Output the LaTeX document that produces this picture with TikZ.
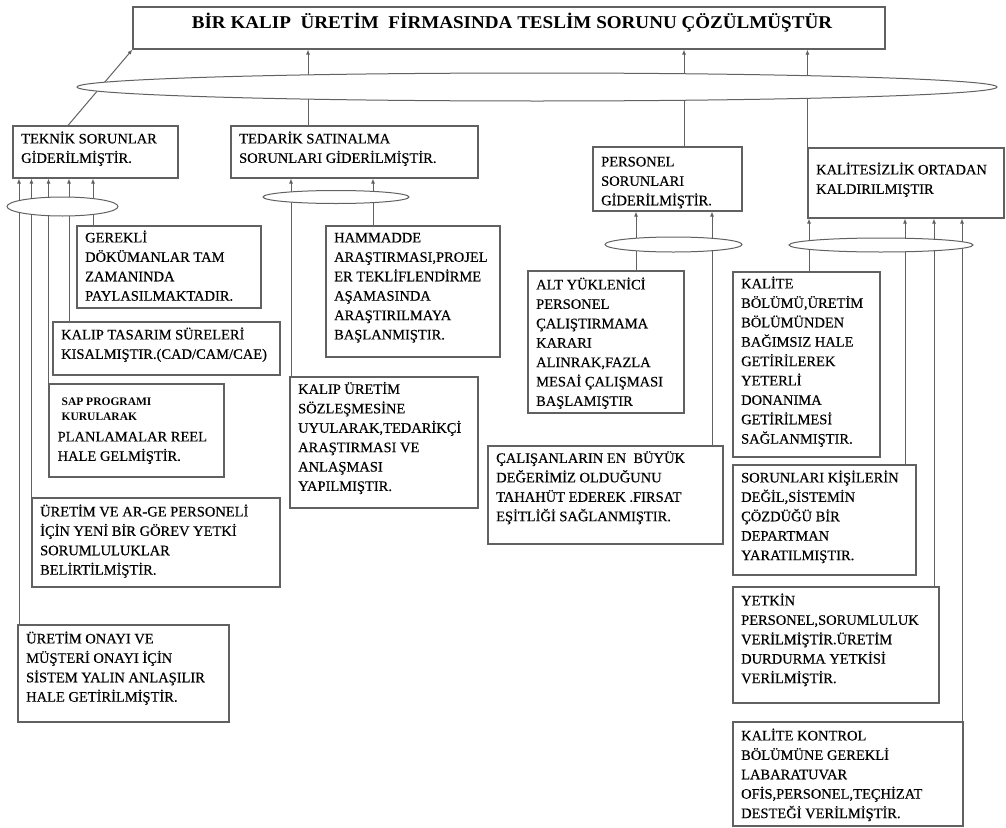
\documentclass[tikz,border=0pt]{standalone}
\usepackage{fontspec}
\setmainfont{Liberation Serif}
\newfontfamily\boxfont{Liberation Serif}[FakeBold=0.35]
\usetikzlibrary{arrows.meta,shapes.geometric,fit}

% framed goal box: name, x1, y1, x2, y2, baseline offset of first line, text
\newcommand\goalbox[7]{%
  \node[box, fit={(#2,#3) (#4,#5)}] (#1) {};
  \node[txt] (#1-t) at ([shift={(8.5,#6)}]#1.north west)
    {\parbox[t]{300pt}{\raggedright #7}};
}

\begin{document}
\begin{tikzpicture}[x=1pt,y=-1pt,
  box/.style={draw=black!62, line width=1.1pt, rectangle, inner sep=0pt},
  txt/.style={anchor=base west, inner sep=0pt, text=black,
    font=\boxfont\fontsize{14.5}{19.4}\selectfont},
  small/.style={anchor=base west, inner sep=0pt, text=black,
    font=\fontsize{11.5}{14.6}\selectfont\bfseries},
  title/.style={anchor=base, inner sep=0pt, text=black,
    font=\fontsize{18}{20}\selectfont\bfseries},
  arr/.style={draw=black!62, line width=1pt, -{Latex[length=5pt,width=4pt]}},
  andell/.style={ellipse, draw=black!62, line width=1pt, fill=white, inner sep=0pt}]
\useasboundingbox (0,0) rectangle (1006,827);

% main goal
\node[box, fit={(133,7) (885,49)}] (goal) {};
\node[title] (goal-t) at (512,28)
  {\scalebox{1.06}[1]{BİR KALIP\ \ ÜRETİM\ \ FİRMASINDA TESLİM SORUNU ÇÖZÜLMÜŞTÜR}};

% sub-goals
\goalbox{teknik}{13}{126}{178}{178}{18}{TEKNİK SORUNLAR\\GİDERİLMİŞTİR.}
\goalbox{tedarik}{231}{126}{478}{178}{18}{TEDARİK SATINALMA\\SORUNLARI GİDERİLMİŞTİR.}
\goalbox{personel}{593}{147}{742}{211}{20}{PERSONEL\\SORUNLARI\\GİDERİLMİŞTİR.}
\goalbox{kalitesiz}{808}{148}{1004}{218}{27}{KALİTESİZLİK ORTADAN\\KALDIRILMIŞTIR}

% technical branch
\goalbox{gerekli}{77}{226}{261}{308}{17}{GEREKLİ\\DÖKÜMANLAR TAM\\ZAMANINDA\\PAYLASILMAKTADIR.}
\goalbox{kaliptas}{53}{322}{280}{375}{18}{KALIP TASARIM SÜRELERİ\\KISALMIŞTIR.(CAD/CAM/CAE)}
\node[box, fit={(49,384) (224,477)}] (sap) {};
\node[small] (sap-t1) at ([shift={(13,22)}]sap.north west)
  {\parbox[t]{200pt}{\raggedright SAP PROGRAMI\\KURULARAK}};
\node[txt] (sap-t2) at ([shift={(9,58)}]sap.north west)
  {\parbox[t]{200pt}{\raggedright PLANLAMALAR REEL\\HALE GELMİŞTİR.}};
\goalbox{arge}{32}{498}{280}{587}{19}{ÜRETİM VE AR-GE PERSONELİ\\İÇİN YENİ BİR GÖREV YETKİ\\SORUMLULUKLAR\\BELİRTİLMİŞTİR.}
\goalbox{onay}{18}{625}{229}{722}{19}{ÜRETİM ONAYI VE\\MÜŞTERİ ONAYI İÇİN\\SİSTEM YALIN ANLAŞILIR\\HALE GETİRİLMİŞTİR.}

% supply branch
\goalbox{hammadde}{326}{226}{500}{357}{17}{HAMMADDE\\ARAŞTIRMASI,PROJEL\\ER TEKLİFLENDİRME\\AŞAMASINDA\\ARAŞTIRILMAYA\\BAŞLANMIŞTIR.}
\goalbox{kalipuret}{290}{377}{478}{508}{17.5}{KALIP ÜRETİM\\SÖZLEŞMESİNE\\UYULARAK,TEDARİKÇİ\\ARAŞTIRMASI VE\\ANLAŞMASI\\YAPILMIŞTIR.}

% personnel branch
\goalbox{alt}{528}{271}{684}{413}{19}{ALT YÜKLENİCİ\\PERSONEL\\ÇALIŞTIRMAMA\\KARARI\\ALINRAK,FAZLA\\MESAİ ÇALIŞMASI\\BAŞLAMIŞTIR}
\goalbox{calisan}{488}{446}{723}{544}{17.5}{ÇALIŞANLARIN EN\ \ BÜYÜK\\DEĞERİMİZ OLDUĞUNU\\TAHAHÜT EDEREK .FIRSAT\\EŞİTLİĞİ SAĞLANMIŞTIR.}

% quality branch
\goalbox{kalite}{733}{272}{880}{457}{17}{KALİTE\\BÖLÜMÜ,ÜRETİM\\BÖLÜMÜNDEN\\BAĞIMSIZ HALE\\GETİRİLEREK\\YETERLİ\\DONANIMA\\GETİRİLMESİ\\SAĞLANMIŞTIR.}
\goalbox{sorun}{733}{465}{916}{575}{18}{SORUNLARI KİŞİLERİN\\DEĞİL,SİSTEMİN\\ÇÖZDÜĞÜ BİR\\DEPARTMAN\\YARATILMIŞTIR.}
\goalbox{yetkin}{733}{587}{939}{703}{19}{YETKİN\\PERSONEL,SORUMLULUK\\VERİLMİŞTİR.ÜRETİM\\DURDURMA YETKİSİ\\VERİLMİŞTİR.}
\goalbox{kontrol}{733}{722}{963}{826}{19}{KALİTE KONTROL\\BÖLÜMÜNE GEREKLİ\\LABARATUVAR\\OFİS,PERSONEL,TEÇHİZAT\\DESTEĞİ VERİLMİŞTİR.}

% connectors to the main goal
\draw[arr] (teknik.north -| 68,0) -- (goal.south west);
\draw[arr] (tedarik.north -| 308,0) -- (goal.south -| 308,0);
\draw[arr] (personel.north -| 684,0) -- (goal.south -| 684,0);
\draw[arr] (kalitesiz.north west) -- (goal.south -| kalitesiz.north west);

% connectors to the technical sub-goal
\draw[arr] (gerekli.north -| 93,0) -- (teknik.south -| 93,0);
\draw[arr] (kaliptas.north -| 69,0) -- (teknik.south -| 69,0);
\draw[arr] (sap.north -| 48.5,0) -- (teknik.south -| 48.5,0);
\draw[arr] (arge.north west) -- (teknik.south -| arge.north west);
\draw[arr] (onay.north -| 19,0) -- (teknik.south -| 19,0);

% connectors to the supply sub-goal
\draw[arr] (kalipuret.north -| 291,0) -- (tedarik.south -| 291,0);
\draw[arr] (hammadde.north -| 373,0) -- (tedarik.south -| 373,0);

% connectors to the personnel sub-goal
\draw[arr] (alt.north -| 636,0) -- (personel.south -| 636,0);
\draw[arr] (calisan.north -| 712,0) -- (personel.south -| 712,0);

% connectors to the quality sub-goal
\draw[arr] (kalite.north -| 809,0) -- (kalitesiz.south -| 809,0);
\draw[arr] (sorun.north -| 905,0) -- (kalitesiz.south -| 905,0);
\draw[arr] (yetkin.north -| 934,0) -- (kalitesiz.south -| 934,0);
\draw[arr] (kontrol.north -| 962,0) -- (kalitesiz.south -| 962,0);

% AND junctions
\node[andell, minimum width=920, minimum height=28] (and0) at (537,87) {};
\node[andell, minimum width=111, minimum height=19] (and1) at (62.5,206.5) {};
\node[andell, minimum width=146, minimum height=13] (and2) at (336,197) {};
\node[andell, minimum width=137, minimum height=15] (and3) at (673.5,244.5) {};
\node[andell, minimum width=184, minimum height=14] (and4) at (881,245) {};
\end{tikzpicture}
\end{document}
